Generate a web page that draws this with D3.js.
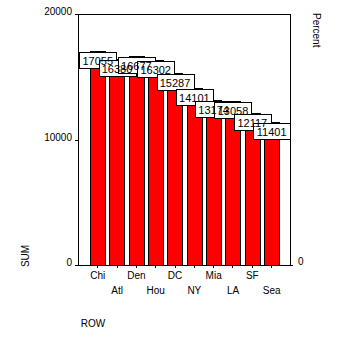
<!DOCTYPE html>
<html>
<head>
<meta charset="utf-8">
<script src="https://cdn.jsdelivr.net/npm/d3@7/dist/d3.min.js"></script>
<style>
  html, body { margin: 0; padding: 0; background: #fff; }
  svg { display: block; font-family: "Liberation Sans", Arial, sans-serif; }
</style>
</head>
<body>
<svg id="chart" width="339" height="338"></svg>
<script>
// City codes along the category axis
const categories = ["Chi", "Atl", "Den", "Hou", "DC", "NY", "Mia", "LA", "SF", "Sea"];
// Summed value for each city
const sums = [17055, 16380, 16677, 16302, 15287, 14101, 13174, 13058, 12117, 11401];
// Left axis tick values
const leftTicks = [0, 10000, 20000];
const rightTicks = [0];

const svg = d3.select("#chart");
const plot = { left: 78, right: 290, top: 14, bottom: 265 };

const y = d3.scaleLinear().domain([0, 20000]).range([plot.bottom, plot.top]);
const x = d3.scaleBand()
  .domain(categories)
  .range([plot.left, plot.right])
  .paddingInner(0.2)
  .paddingOuter(0.585)
  .align(0.53);

// Plot frame
svg.append("rect")
  .attr("x", plot.left + 0.5).attr("y", plot.top + 0.5)
  .attr("width", plot.right - plot.left).attr("height", plot.bottom - plot.top)
  .attr("fill", "none").attr("stroke", "#000").attr("stroke-width", 1)
  .attr("shape-rendering", "crispEdges");

// Bars
svg.append("g").selectAll("rect")
  .data(categories)
  .join("rect")
  .attr("x", d => Math.round(x(d)) + 0.5)
  .attr("y", (d, i) => Math.round(y(sums[i])) + 0.5)
  .attr("width", Math.round(x.bandwidth()))
  .attr("height", (d, i) => plot.bottom - Math.round(y(sums[i])))
  .attr("fill", "#ff0000")
  .attr("stroke", "#000")
  .attr("stroke-width", 1)
  .attr("shape-rendering", "crispEdges");

// Left value axis
const leftAxis = svg.append("g")
  .attr("transform", `translate(${plot.left},0)`)
  .call(d3.axisLeft(y).tickValues(leftTicks).tickSize(3).tickPadding(3).tickFormat(d3.format("d")));
leftAxis.select(".domain").remove();
leftAxis.selectAll("line").attr("stroke", "#000").attr("shape-rendering", "crispEdges");
leftAxis.selectAll("text").attr("font-size", 10).attr("fill", "#000")
  .attr("dy", "0.05em");

// Right percent axis
const rightAxis = svg.append("g")
  .attr("transform", `translate(${plot.right + 1},0)`)
  .call(d3.axisRight(y).tickValues(rightTicks).tickSize(2).tickPadding(5).tickFormat(d3.format("d")));
rightAxis.select(".domain").remove();
rightAxis.selectAll("line").attr("stroke", "#000").attr("shape-rendering", "crispEdges");
rightAxis.selectAll("text").attr("font-size", 10).attr("fill", "#000").attr("dy", "-0.05em");

// Category axis with staggered labels
const bottomAxis = svg.append("g")
  .attr("transform", `translate(0,${plot.bottom + 1})`)
  .call(d3.axisBottom(x).tickSize(2).tickPadding(4));
bottomAxis.select(".domain").remove();
bottomAxis.selectAll("line").attr("stroke", "#000").attr("shape-rendering", "crispEdges");
bottomAxis.selectAll("text")
  .attr("font-size", 10).attr("fill", "#000")
  .attr("y", (d, i) => i % 2 === 0 ? 6 : 21);

// Value label boxes, then their texts on top
const labels = svg.append("g");
const boxW = 37, boxH = 16;
labels.selectAll("rect")
  .data(categories)
  .join("rect")
  .attr("x", d => Math.round(x(d) + x.bandwidth() / 2 - boxW / 2) + 0.5)
  .attr("y", (d, i) => Math.round(y(sums[i])) + 1.5)
  .attr("width", boxW).attr("height", boxH)
  .attr("fill", "#fff").attr("stroke", "#000").attr("stroke-width", 1)
  .attr("shape-rendering", "crispEdges");
labels.selectAll("text")
  .data(categories)
  .join("text")
  .attr("x", d => x(d) + x.bandwidth() / 2)
  .attr("y", (d, i) => Math.round(y(sums[i])) + 14)
  .attr("text-anchor", "middle")
  .attr("font-size", 11)
  .attr("fill", "#000")
  .text((d, i) => sums[i]);

// Axis titles
svg.append("text")
  .attr("transform", "translate(29,256) rotate(-90)")
  .attr("text-anchor", "middle").attr("font-size", 10).attr("fill", "#000")
  .text("SUM");
svg.append("text")
  .attr("transform", "translate(313,13) rotate(90)")
  .attr("text-anchor", "start").attr("font-size", 10).attr("fill", "#000")
  .text("Percent");
svg.append("text")
  .attr("x", 93).attr("y", 327)
  .attr("text-anchor", "middle").attr("font-size", 10).attr("fill", "#000")
  .text("ROW");
</script>
</body>
</html>
